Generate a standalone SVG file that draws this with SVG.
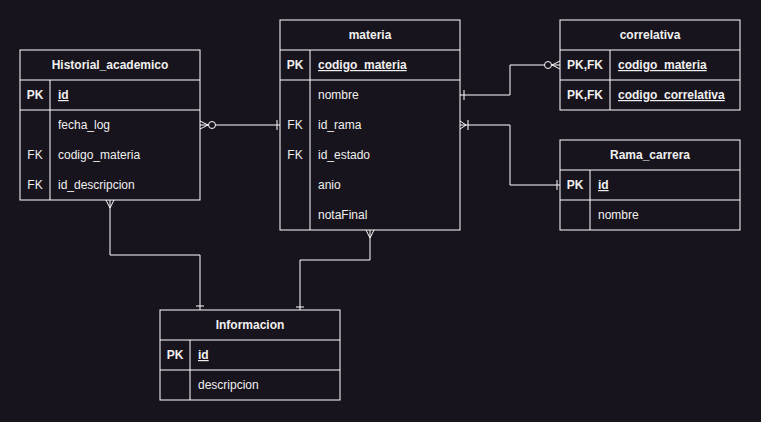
<svg xmlns="http://www.w3.org/2000/svg" width="761" height="422" viewBox="0 0 761 422">
<style>
.box{fill:#18141d;stroke:#ffffff;stroke-width:1}
.ln{stroke:#ffffff;stroke-width:1;fill:none}
.t{font-family:"Liberation Sans",Arial,sans-serif;font-size:12px;fill:#f0f0f0}
.h{font-weight:bold;text-anchor:middle}
.k{font-weight:bold;text-anchor:middle}
.kn{text-anchor:middle}
.u{text-decoration:underline;font-weight:bold}
.c{stroke:#ffffff;stroke-width:1;fill:none}
.dot{stroke:#ffffff;stroke-width:1;fill:#18141d}
</style>
<rect width="761" height="422" fill="#18141d"/>
<g id="connectors">
  <path class="c" d="M200,125 H280"/>
  <path class="c" d="M208,125 L200,121 M208,125 L200,129"/>
  <circle class="dot" cx="212" cy="125" r="3.5"/>
  <path class="c" d="M277,120 V130"/>

  <path class="c" d="M460,95 H510 V65 H560"/>
  <path class="c" d="M464,90 V100"/>
  <circle class="dot" cx="548" cy="65" r="3.5"/>
  <path class="c" d="M552,65 L560,61 M552,65 L560,69"/>

  <path class="c" d="M460,125 H510 V185 H560"/>
  <path class="c" d="M466,125 L460,121 M466,125 L460,129 M468,120 V130"/>
  <path class="c" d="M557,180 V190"/>

  <path class="c" d="M110,200 V255 H200 V310"/>
  <path class="c" d="M110,208 L106,200 M110,208 L114,200"/>
  <path class="c" d="M196,306 H204"/>

  <path class="c" d="M370,230 V260 H300 V310"/>
  <path class="c" d="M370,238 L366,230 M370,238 L374,230"/>
  <path class="c" d="M296,307 H304"/>
</g>
<g id="Historial_academico">
  <rect class="box" x="20" y="50" width="180" height="150"/>
  <path class="ln" d="M20,80 H200 M20,110 H200 M50,80 V200"/>
  <text class="t h" x="110" y="69">Historial_academico</text>
  <text class="t k" x="35" y="99">PK</text>
  <text class="t u" x="58" y="99">id</text>
  <text class="t" x="58" y="129">fecha_log</text>
  <text class="t kn" x="35" y="159">FK</text>
  <text class="t" x="58" y="159">codigo_materia</text>
  <text class="t kn" x="35" y="189">FK</text>
  <text class="t" x="58" y="189">id_descripcion</text>
</g>
<g id="materia">
  <rect class="box" x="280" y="20" width="180" height="210"/>
  <path class="ln" d="M280,50 H460 M280,80 H460 M310,50 V230"/>
  <text class="t h" x="370" y="39">materia</text>
  <text class="t k" x="295" y="69">PK</text>
  <text class="t u" x="318" y="69">codigo_materia</text>
  <text class="t" x="318" y="99">nombre</text>
  <text class="t kn" x="295" y="129">FK</text>
  <text class="t" x="318" y="129">id_rama</text>
  <text class="t kn" x="295" y="159">FK</text>
  <text class="t" x="318" y="159">id_estado</text>
  <text class="t" x="318" y="189">anio</text>
  <text class="t" x="318" y="219">notaFinal</text>
</g>
<g id="correlativa">
  <rect class="box" x="560" y="20" width="180" height="90"/>
  <path class="ln" d="M560,50 H740 M560,80 H740 M610,50 V110"/>
  <text class="t h" x="650" y="39">correlativa</text>
  <text class="t k" x="585" y="69">PK,FK</text>
  <text class="t u" x="618" y="69">codigo_materia</text>
  <text class="t k" x="585" y="99">PK,FK</text>
  <text class="t u" x="618" y="99">codigo_correlativa</text>
</g>
<g id="Rama_carrera">
  <rect class="box" x="560" y="140" width="180" height="90"/>
  <path class="ln" d="M560,170 H740 M560,200 H740 M590,170 V230"/>
  <text class="t h" x="650" y="159">Rama_carrera</text>
  <text class="t k" x="575" y="189">PK</text>
  <text class="t u" x="598" y="189">id</text>
  <text class="t" x="598" y="219">nombre</text>
</g>
<g id="Informacion">
  <rect class="box" x="160" y="310" width="180" height="90"/>
  <path class="ln" d="M160,340 H340 M160,370 H340 M190,340 V400"/>
  <text class="t h" x="250" y="329">Informacion</text>
  <text class="t k" x="175" y="359">PK</text>
  <text class="t u" x="198" y="359">id</text>
  <text class="t" x="198" y="389">descripcion</text>
</g>
</svg>
